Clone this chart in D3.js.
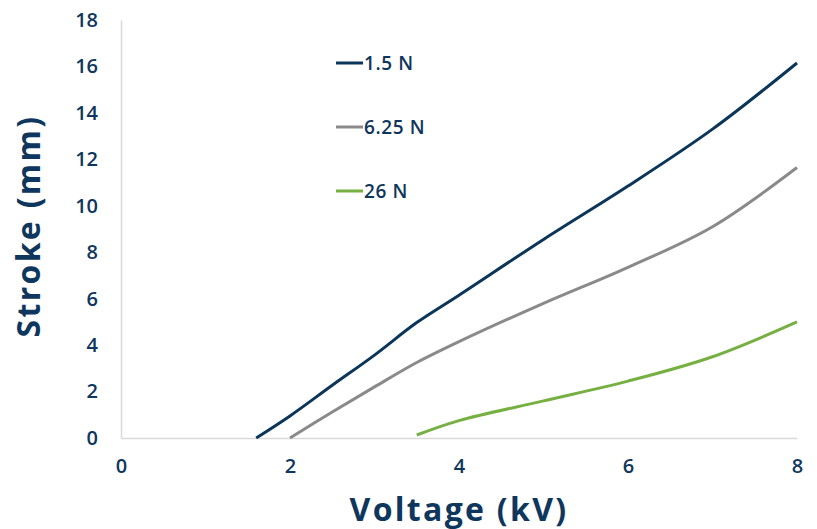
<!DOCTYPE html>
<html>
<head>
<meta charset="utf-8">
<script src="https://cdn.jsdelivr.net/npm/d3@7"></script>
<style>
  body { margin: 0; background: #fff; }
  svg text { font-family: "Open Sans", sans-serif; fill: #0f365c; }
</style>
</head>
<body>
<svg width="817" height="529"></svg>
<script>
// data
let seriesNames = ["1.5 N", "6.25 N", "26 N"];
let seriesColors = ["#0b3559", "#8a8a8a", "#76b043"];
let volts15 = [1.6, 2, 2.5, 3, 3.5, 4, 5, 6, 7, 8];
let stroke15 = [0, 0.95, 2.27, 3.57, 4.97, 6.15, 8.55, 10.85, 13.3, 16.15];
let volts625 = [2, 2.5, 3, 3.5, 4, 5, 6, 7, 8];
let stroke625 = [0, 1.12, 2.2, 3.25, 4.15, 5.8, 7.35, 9.1, 11.65];
let volts26 = [3.5, 4, 5, 6, 7, 8];
let stroke26 = [0.13, 0.75, 1.6, 2.45, 3.5, 5.0];
let xTicks = [0, 2, 4, 6, 8];
let yTicks = [0, 2, 4, 6, 8, 10, 12, 14, 16, 18];

let series = [
  {name: seriesNames[0], color: seriesColors[0], pts: volts15.map((v, i) => [v, stroke15[i]])},
  {name: seriesNames[1], color: seriesColors[1], pts: volts625.map((v, i) => [v, stroke625[i]])},
  {name: seriesNames[2], color: seriesColors[2], pts: volts26.map((v, i) => [v, stroke26[i]])}
];

let svg = d3.select("svg"),
    margin = {top: 20, right: 20, bottom: 91, left: 121},
    width = +svg.attr("width") - margin.left - margin.right,
    height = +svg.attr("height") - margin.top - margin.bottom;

let x = d3.scaleLinear().domain([0, 8]).range([0, 676]),
    y = d3.scaleLinear().domain([0, 18]).range([height, 0]);

let g = svg.append("g")
  .attr("transform", "translate(" + margin.left + "," + margin.top + ")");

// axes
let xAxis = g.append("g")
  .attr("transform", "translate(0," + height + ")")
  .call(d3.axisBottom(x).tickValues(xTicks).tickSize(0).tickPadding(21));
xAxis.select(".domain").attr("stroke", "#d9d9d9").attr("stroke-width", 1.5);
xAxis.selectAll("text").attr("font-size", 20).attr("font-weight", 600);

let yAxis = g.append("g")
  .call(d3.axisLeft(y).tickValues(yTicks).tickSize(0).tickPadding(23));
yAxis.select(".domain").attr("stroke", "#d9d9d9").attr("stroke-width", 1.5);
yAxis.selectAll("text").attr("font-size", 20).attr("font-weight", 600);

// lines
let line = d3.line()
  .x(d => x(d[0]))
  .y(d => y(d[1]))
  .curve(d3.curveCatmullRom.alpha(0.5));

g.selectAll(".series")
  .data(series)
  .enter().append("path")
  .attr("class", "series")
  .attr("fill", "none")
  .attr("stroke", d => d.color)
  .attr("stroke-width", 3)
  .attr("d", d => line(d.pts));

// legend
let legend = g.selectAll(".legend")
  .data(series)
  .enter().append("g")
  .attr("class", "legend")
  .attr("transform", (d, i) => "translate(215," + (43 + i * 64) + ")");
legend.append("line")
  .attr("x1", 0).attr("x2", 27)
  .attr("stroke", d => d.color)
  .attr("stroke-width", 3);
legend.append("text")
  .attr("x", 28)
  .attr("dy", "0.36em")
  .attr("font-size", 19)
  .attr("font-weight", 600)
  .attr("letter-spacing", 0.6)
  .text(d => d.name);

// axis titles
svg.append("text")
  .attr("x", 459)
  .attr("y", 521)
  .attr("text-anchor", "middle")
  .attr("font-size", 32)
  .attr("font-weight", "bold")
  .attr("letter-spacing", 2.3)
  .text("Voltage (kV)");

svg.append("text")
  .attr("transform", "translate(40,226) rotate(-90)")
  .attr("text-anchor", "middle")
  .attr("font-size", 32)
  .attr("font-weight", "bold")
  .attr("letter-spacing", 2.3)
  .text("Stroke (mm)");
</script>
</body>
</html>
